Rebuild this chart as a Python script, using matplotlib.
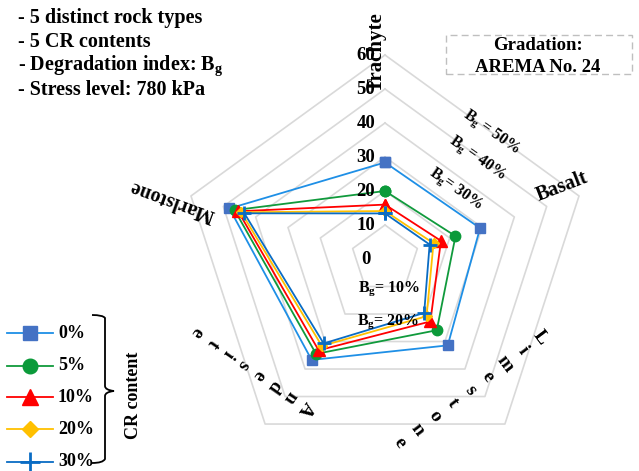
import numpy as np
import matplotlib
matplotlib.use("Agg")
import matplotlib.pyplot as plt
from matplotlib.lines import Line2D
from matplotlib.patches import Rectangle, PathPatch
from matplotlib.path import Path
from matplotlib.transforms import ScaledTranslation

# ---------------- data ----------------
categories = ["Trachyte", "Basalt", "Limestone", "Andesite", "Marlstone"]
series_labels = ["0%", "5%", "10%", "20%", "30%"]
values_0 = [28.4, 29.4, 31.4, 36.7, 48.1]
values_5 = [20.0, 21.8, 25.9, 34.5, 46.5]
values_10 = [16.0, 17.3, 22.7, 33.2, 45.4]
values_20 = [14.1, 15.0, 20.8, 31.6, 44.5]
values_30 = [13.4, 13.8, 19.6, 30.7, 43.5]
ring_values = [10, 20, 30, 40, 50, 60]
tick_values = [0, 10, 20, 30, 40, 50, 60]
bg_labels = ["10%", "20%", "30%", "40%", "50%"]

plt.rcParams["font.family"] = ["Liberation Serif", "DejaVu Serif"]
plt.rcParams["font.weight"] = "bold"
plt.rcParams["mathtext.fontset"] = "custom"
plt.rcParams["mathtext.rm"] = "Liberation Serif:bold"
plt.rcParams["mathtext.it"] = "Liberation Serif:bold"
plt.rcParams["mathtext.bf"] = "Liberation Serif:bold"

W, H = 639, 471
fig = plt.figure(figsize=(W / 100, H / 100), dpi=100)


def P(x, y):
    return (x / W, 1 - y / H)


# polar axes centred at (385, 259) px, radius 204 px
cx, cy, R = 385, 259, 204
ax = fig.add_axes([(cx - R) / W, (H - cy - R) / H, 2 * R / W, 2 * R / H], projection="polar")
ax.set_theta_offset(np.pi / 2)
ax.set_theta_direction(-1)
ax.set_ylim(0, 60)
ax.axis("off")

n = len(categories)
theta = np.arange(n) * 2 * np.pi / n
theta_c = np.append(theta, theta[0])

# pentagon rings
for rv in ring_values:
    ax.plot(theta_c, [rv] * (n + 1), color="#D9D9D9", lw=1.2, zorder=1, clip_on=False)

styles = [
    dict(color="#1E8FE6", marker="s", mfc="#4472C4", mec="#4472C4", ms=7.5, mew=1),
    dict(color="#109A3C", marker="o", mfc="#0B9A3A", mec="#0B9A3A", ms=7.5, mew=1),
    dict(color="#FF0000", marker="^", mfc="#FF0000", mec="#FF0000", ms=8, mew=1),
    dict(color="#FFC000", marker="D", mfc="#FFC000", mec="#FFC000", ms=5.5, mew=1),
    dict(color="#0A6CC4", marker="+", mfc="#0A6CC4", mec="#0A6CC4", ms=10, mew=2),
]
all_series = [values_0, values_5, values_10, values_20, values_30]
for i, (vals, st) in enumerate(zip(all_series, styles)):
    v = np.append(vals, vals[0])
    ax.plot(theta_c, v, lw=1.3, zorder=3 + i, clip_on=False, **st)

# radial tick labels along the Trachyte axis
off = ax.transData + ScaledTranslation(-19 / 100, 0, fig.dpi_scale_trans)
for tv in tick_values:
    ax.text(0, tv, str(tv), transform=off, ha="center", va="center",
            fontsize=13.5, fontweight="bold", zorder=10)

# category labels
tk = dict(fontweight="bold", ha="center", va="center")
fig.text(*P(377, 52), "Trachyte", rotation=90, fontsize=15, **tk)
fig.text(*P(562, 187), "Basalt", rotation=21, fontsize=14.5, **tk)
fig.text(*P(172, 201), "Marlstone", rotation=160, fontsize=14.5, **tk)


def spaced(word, p0, p1, rot, fs=14):
    xs = np.linspace(p0[0], p1[0], len(word))
    ys = np.linspace(p0[1], p1[1], len(word))
    for ch, x, y in zip(word, xs, ys):
        fig.text(*P(x, y), ch, rotation=rot, fontsize=fs, **tk)


spaced("Limestone", (540, 337), (400, 443), -53)
spaced("Andesite", (305, 408), (197, 332), -125)

# Bg labels
fig.text(*P(389, 289), "B$_{g}$= " + bg_labels[0], fontsize=11.5, **tk)
fig.text(*P(388, 322), "B$_{g}$= " + bg_labels[1], fontsize=11.5, **tk)
fig.text(*P(456, 189), "B$_{g}$= " + bg_labels[2], rotation=-35, fontsize=11.5, **tk)
fig.text(*P(478, 158), "B$_{g}$ = " + bg_labels[3], rotation=-35, fontsize=11.5, **tk)
fig.text(*P(492, 132), "B$_{g}$ = " + bg_labels[4], rotation=-35, fontsize=11.5, **tk)

# top-left notes
notes = ["- 5 distinct rock types", "- 5 CR contents",
         "- Degradation index: B$_{g}$", "- Stress level: 780 kPa"]
for k, t in enumerate(notes):
    fig.text(*P(18, 18 + 24 * k), t, fontsize=14.5, fontweight="bold", ha="left", va="center")

# gradation box
fig.add_artist(Rectangle(P(446, 74), (632 - 446) / W, (74 - 35) / H, transform=fig.transFigure,
                         fill=False, ec="#BFBFBF", lw=1, ls=(0, (5, 3))))
fig.text(*P(538, 46), "Gradation:", fontsize=13.5, **tk)
fig.text(*P(538, 67), "AREMA No. 24", fontsize=13.5, **tk)

# legend (manual)
leg_y = [333, 366, 397, 429, 462]
for yy, st, lab in zip(leg_y, styles, series_labels):
    fig.add_artist(Line2D([7 / W, 53 / W], [1 - yy / H] * 2, transform=fig.transFigure,
                          color=st["color"], lw=1.3))
    fig.add_artist(Line2D([30 / W], [1 - yy / H], transform=fig.transFigure,
                          marker=st["marker"], mfc=st["mfc"], mec=st["mec"],
                          ms=st["ms"] * 1.4, mew=st["mew"], ls="none"))
    fig.text(*P(58, yy), lab, fontsize=13, fontweight="bold", ha="left", va="center")

# brace
verts = [P(92, 315), P(103, 315), P(105, 318), P(105, 386), P(105, 390), P(114, 391),
         P(105, 392), P(105, 396), P(105, 459), P(103, 463), P(92, 463)]
codes = [Path.MOVETO, Path.CURVE3, Path.CURVE3, Path.LINETO, Path.CURVE3, Path.CURVE3,
         Path.CURVE3, Path.CURVE3, Path.LINETO, Path.CURVE3, Path.CURVE3]
fig.add_artist(PathPatch(Path(verts, codes), transform=fig.transFigure, fill=False, lw=1.3, ec="black"))
fig.text(*P(133, 395), "CR content", rotation=90, fontsize=13, **tk)

fig.savefig("out.png", dpi=100)
